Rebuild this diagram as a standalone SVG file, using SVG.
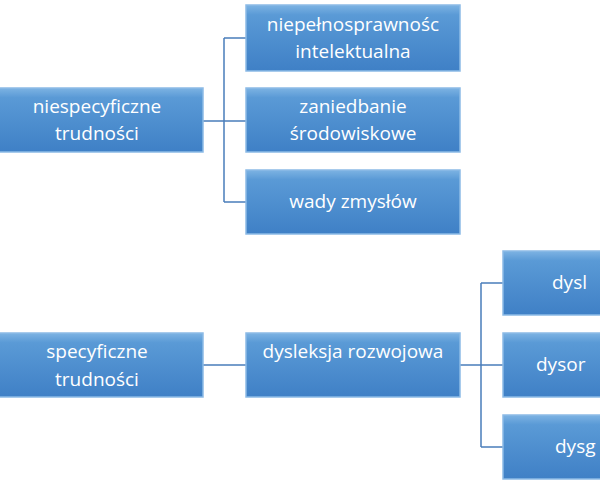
<svg xmlns="http://www.w3.org/2000/svg" width="600" height="480" viewBox="0 0 600 480">
<defs>
<linearGradient id="g" x1="0" y1="0" x2="0" y2="1">
<stop offset="0" stop-color="#7db3e3"/><stop offset="0.15" stop-color="#5a9ad6"/><stop offset="1" stop-color="#3f80c6"/>
</linearGradient>
</defs>
<style>
.b{fill:url(#g);stroke:#8cbbe6;stroke-width:1.5}
.t{font-family:"Open Sans",sans-serif;font-size:19px;fill:#fff;text-anchor:middle}
.s{font-family:"Open Sans",sans-serif;font-size:19px;fill:#fff}
.c{fill:none;stroke:#4a7ebb;stroke-width:1.5}
</style>
<rect width="600" height="480" fill="#fff"/>
<g id="connectors">
<path class="c" d="M203 121H246M224 38V202M224 38H246M224 202H246"/>
<path class="c" d="M203 365H246M460 365H503M481 283V447M481 283H503M481 447H503"/>
</g>
<g id="n1"><rect class="b" x="-5" y="88" width="208" height="64"/><text class="t" x="97" y="113">niespecyficzne</text><text class="t" x="97" y="140">trudności</text></g>
<g id="n2"><rect class="b" x="246" y="5" width="214" height="66"/><text class="t" x="353" y="31">niepełnosprawnośc</text><text class="t" x="353" y="58">intelektualna</text></g>
<g id="n3"><rect class="b" x="246" y="88" width="214" height="64"/><text class="t" x="353" y="113">zaniedbanie</text><text class="t" x="353" y="140">środowiskowe</text></g>
<g id="n4"><rect class="b" x="246" y="170" width="214" height="64"/><text class="t" x="353" y="208">wady zmysłów</text></g>
<g id="n5"><rect class="b" x="-5" y="333" width="208" height="64"/><text class="t" x="97" y="358">specyficzne</text><text class="t" x="97" y="386">trudności</text></g>
<g id="n6"><rect class="b" x="246" y="333" width="214" height="64"/><text class="t" x="353" y="358">dysleksja rozwojowa</text></g>
<g id="n7"><rect class="b" x="503" y="251" width="120" height="64"/><text class="s" x="552" y="289">dysl</text></g>
<g id="n8"><rect class="b" x="503" y="333" width="120" height="64"/><text class="s" x="536" y="371">dysor</text></g>
<g id="n9"><rect class="b" x="503" y="415" width="120" height="64"/><text class="s" x="555" y="453">dysg</text></g>
</svg>
